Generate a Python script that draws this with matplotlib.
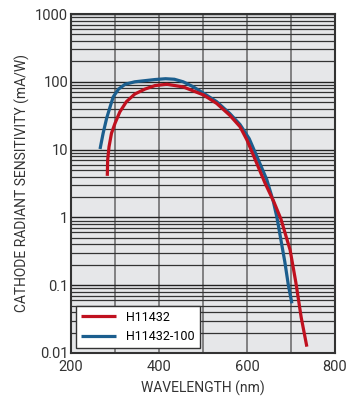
import numpy as np
import matplotlib.pyplot as plt

# spectral response (wavelength nm, sensitivity mA/W)
wl_h11432 = [282.5, 283.3, 286.4, 292, 300, 311, 326, 345, 368, 391, 418, 455, 501,
             531, 561, 584, 600, 622, 641, 661, 677, 698, 711, 723, 736]
s_h11432 = [4.1, 7.0, 11, 17.4, 24.4, 36, 51, 66, 78, 88, 92, 84, 64,
            48, 32, 21.8, 13.8, 6.3, 3.2, 1.7, 0.95, 0.33, 0.11, 0.034, 0.0124]

wl_h11432_100 = [266, 273, 281, 289, 296, 308, 323, 345, 391, 415, 435, 455, 477, 501,
                 531, 561, 584, 605, 626, 645, 660, 668, 686, 694, 702]
s_h11432_100 = [10.2, 17.4, 29, 43, 60, 78, 92, 100, 108, 111, 109, 100, 85, 68,
                51, 34, 23.5, 14.5, 7.0, 3.6, 1.7, 1.0, 0.22, 0.1, 0.054]

plt.rcParams['font.family'] = ['Roboto', 'DejaVu Sans']

fig = plt.figure(figsize=(3.49, 4.03), dpi=100)
ax = fig.add_axes([71 / 349, 50 / 403, 264 / 349, 339 / 403])
ax.set_facecolor('#e6e7e9')

ax.set_yscale('log')
ax.set_xlim(200, 800)
ax.set_ylim(0.01, 1000)
ax.set_xticks([200, 400, 600, 800])
ax.set_xticks([300, 500, 700], minor=True)
ax.set_yticks([0.01, 0.1, 1, 10, 100, 1000])
ax.set_yticklabels(['0.01', '0.1', '1', '10', '100', '1000'])

ax.grid(True, which='both', axis='x', color='#707070', lw=1.2)
ax.grid(True, which='major', axis='y', color='#222222', lw=1.0)
ax.grid(True, which='minor', axis='y', color='#333333', lw=0.9)
ax.set_axisbelow(True)

ax.plot(wl_h11432, s_h11432, color='#c0111f', lw=2.3, label='H11432', zorder=3,
        solid_joinstyle='round', solid_capstyle='butt')
ax.plot(wl_h11432_100, s_h11432_100, color='#1b5e8e', lw=2.3, label='H11432-100', zorder=2,
        solid_joinstyle='round', solid_capstyle='butt')
leg = ax.legend(loc='lower left', fontsize=9, frameon=True, fancybox=False,
                edgecolor='#333333', framealpha=1, handlelength=2.8,
                borderaxespad=0.4, labelspacing=0.5)
leg.get_frame().set_linewidth(1.0)

ax.tick_params(which='both', length=0, labelsize=10.5, colors='#333333')
ax.tick_params(axis='y', pad=2)
ax.tick_params(axis='x', pad=5)
for sp in ax.spines.values():
    sp.set_color('#333333')
    sp.set_linewidth(1.5)

ax.set_xlabel('WAVELENGTH (nm)', fontsize=10, color='#333333', labelpad=5)
ax.set_ylabel('CATHODE RADIANT SENSITIVITY (mA/W)', fontsize=10, color='#333333', labelpad=4)

fig.savefig('out.png', dpi=100)
